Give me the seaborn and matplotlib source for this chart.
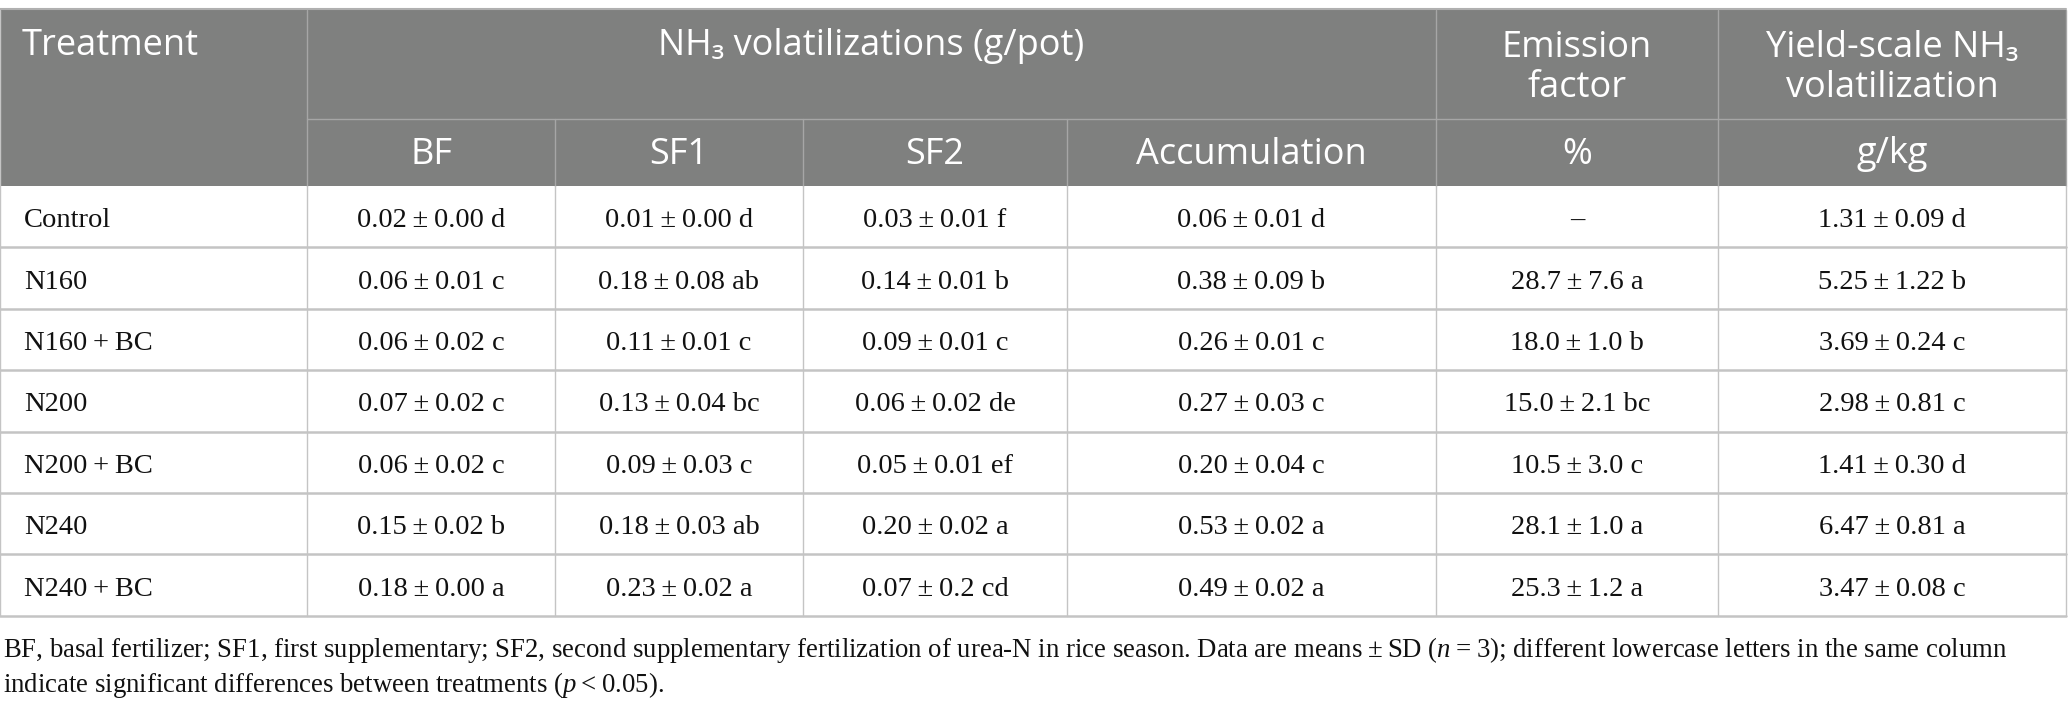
import numpy as np
import pandas as pd
import seaborn as sns
import matplotlib.pyplot as plt
from matplotlib.patches import Rectangle

T = "\u2009"  # ince bosluk

# tablo verileri
treatments = ["Control", "N160", "N160+BC", "N200", "N200+BC", "N240", "N240+BC"]
bf = ["0.02±0.00 d", "0.06±0.01 c", "0.06±0.02 c", "0.07±0.02 c", "0.06±0.02 c", "0.15±0.02 b", "0.18±0.00 a"]
sf1 = ["0.01±0.00 d", "0.18±0.08 ab", "0.11±0.01 c", "0.13±0.04 bc", "0.09±0.03 c", "0.18±0.03 ab", "0.23±0.02 a"]
sf2 = ["0.03±0.01 f", "0.14±0.01 b", "0.09±0.01 c", "0.06±0.02 de", "0.05±0.01 ef", "0.20±0.02 a", "0.07±0.2 cd"]
accumulation = ["0.06±0.01 d", "0.38±0.09 b", "0.26±0.01 c", "0.27±0.03 c", "0.20±0.04 c", "0.53±0.02 a", "0.49±0.02 a"]
emission_factor = ["–", "28.7±7.6 a", "18.0±1.0 b", "15.0±2.1 bc", "10.5±3.0 c", "28.1±1.0 a", "25.3±1.2 a"]
yield_scale = ["1.31±0.09 d", "5.25±1.22 b", "3.69±0.24 c", "2.98±0.81 c", "1.41±0.30 d", "6.47±0.81 a", "3.47±0.08 c"]

sub_headers = ["BF", "SF1", "SF2", "Accumulation", "%", "g/kg"]

df = pd.DataFrame({"Treatment": treatments, "BF": bf, "SF1": sf1, "SF2": sf2,
                   "Accumulation": accumulation, "EF": emission_factor, "YS": yield_scale})
# ± ve + etrafina ince bosluk
df = df.apply(lambda s: s.str.replace("±", T + "±" + T).str.replace("+", T + "+" + T))

sns.set_theme(style="white")
plt.rcParams["font.family"] = ["Open Sans", "DejaVu Sans"]
plt.rcParams["mathtext.fontset"] = "custom"
plt.rcParams["mathtext.rm"] = "Liberation Serif"
plt.rcParams["mathtext.it"] = "Liberation Serif:italic"

W, H = 2068, 710
fig = plt.figure(figsize=(W / 100, H / 100), dpi=100)
ax = fig.add_axes([0, 0, 1, 1])
ax.set_xlim(0, W)
ax.set_ylim(H, 0)
ax.axis("off")

col_edges = [0, 307, 555, 803, 1067, 1436, 1718, 2066]
top, h1, h2 = 10, 119, 186
row_h = 61.4
body_bottom = h2 + row_h * len(df)

header_bg = "#7f807f"
head_line = "#a6a6a6"
body_line = "#c4c4c4"
serif = ["Liberation Serif", "DejaVu Serif"]
sans = ["Open Sans", "DejaVu Sans"]

# baslik arka plani
ax.add_patch(Rectangle((0, top), col_edges[-1], h2 - top, facecolor=header_bg, edgecolor="none"))
ax.plot([0, col_edges[-1]], [top - 1, top - 1], color="#b0b0b0", lw=1.5)

# baslik cizgileri
ax.plot([col_edges[1], col_edges[-1]], [h1, h1], color=head_line, lw=1)
for x in [col_edges[1], col_edges[5], col_edges[6], col_edges[7]]:
    ax.plot([x, x], [top, h2], color=head_line, lw=1)
for x in col_edges[2:5]:
    ax.plot([x, x], [h1, h2], color=head_line, lw=1)

hs = 26
ax.text(22, 46, "Treatment", color="white", fontsize=hs, family=sans, va="center", ha="left")
ax.text((col_edges[1] + col_edges[5]) / 2, 46, "NH₃ volatilizations (g/pot)", color="white",
        fontsize=hs, family=sans, va="center", ha="center")
ax.text((col_edges[5] + col_edges[6]) / 2, 68, "Emission\nfactor", color="white", fontsize=hs,
        family=sans, va="center", ha="center", linespacing=1.17)
ax.text((col_edges[6] + col_edges[7]) / 2, 68, "Yield-scale NH₃\nvolatilization", color="white",
        fontsize=hs, family=sans, va="center", ha="center", linespacing=1.17)
for i, lab in enumerate(sub_headers):
    xc = (col_edges[i + 1] + col_edges[i + 2]) / 2
    ax.text(xc, (h1 + h2) / 2 + 2, lab, color="white", fontsize=hs, family=sans, va="center", ha="center")

# govde cizgileri
for i in range(1, len(df) + 1):
    y = h2 + row_h * i
    ax.plot([0, col_edges[-1]], [y, y], color=body_line, lw=1.8)
for x in col_edges[1:]:
    ax.plot([x, x], [h2, body_bottom], color=body_line, lw=1)
ax.plot([0, 0], [top, body_bottom], color=body_line, lw=1)

bs = 20.5
cols = df.columns[1:]
for r in range(len(df)):
    yc = h2 + row_h * (r + 0.5) + 4
    ax.text(24, yc, df["Treatment"][r], fontsize=bs, family=serif, va="center", ha="left",
            color="#111111")
    for j, c in enumerate(cols):
        xc = (col_edges[j + 1] + col_edges[j + 2]) / 2
        ax.text(xc, yc, df[c][r], fontsize=bs, family=serif, va="center", ha="center",
                color="#111111")

# dipnot
fs = 19.3
ax.text(3, 650, "BF, basal fertilizer; SF1, first supplementary; SF2, second supplementary fertilization "
        "of urea-N in rice season. Data are means" + T + "±" + T + "SD ($\\it{n}$" + T + "=" + T +
        "3); different lowercase letters in the same column",
        fontsize=fs, family=serif, va="center", ha="left", color="#111111")
ax.text(3, 685, "indicate significant differences between treatments ($\\it{p}$" + T + "<" + T + "0.05).",
        fontsize=fs, family=serif, va="center", ha="left", color="#111111")

fig.savefig("out.png", dpi=100)
